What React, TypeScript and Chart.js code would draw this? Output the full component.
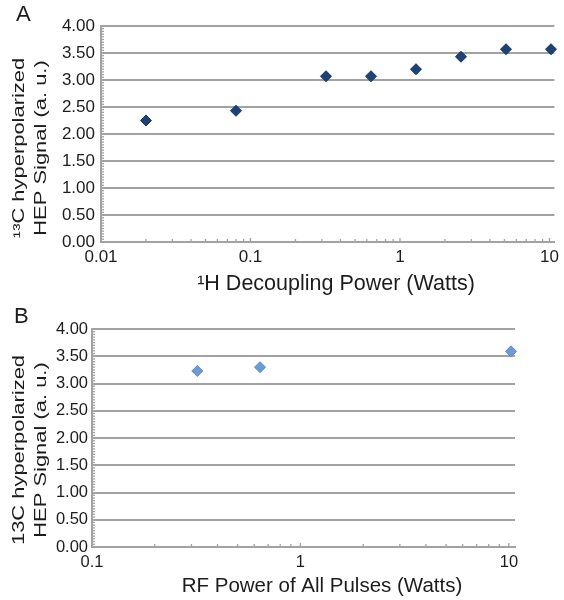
import React, { useEffect, useRef } from "react";
import { Chart, registerables } from "chart.js";

Chart.register(...registerables);

// ---- Data ----
const powerA = [0.02, 0.08, 0.32, 0.64, 1.28, 2.56, 5.12, 10.24];
const signalA = [2.25, 2.43, 3.07, 3.07, 3.2, 3.43, 3.57, 3.57];
const powerB = [0.32, 0.64, 10.24];
const signalB = [3.23, 3.3, 3.59];
const yTickValues = [0, 0.5, 1, 1.5, 2, 2.5, 3, 3.5, 4];
const xTicksA = [0.01, 0.1, 1, 10];
const xTicksB = [0.1, 1, 10];
const panelLetters = ["A", "B"];
const yTitleA = ["¹³C hyperpolarized", "HEP Signal (a. u.)"];
const yTitleB = ["13C hyperpolarized", "HEP Signal (a. u.)"];
const xTitleA = "¹H Decoupling Power (Watts)";
const xTitleB = "RF Power of All Pulses (Watts)";

const FONT = "'Liberation Sans', Arial, Helvetica, sans-serif";
const GRID = "#a2a2a2";
const TEXT = "#1c1c1c";

type PanelCfg = {
  letter: string;
  letterX: number;
  letterBase: number;
  xs: number[];
  ys: number[];
  xMin: number;
  xMax: number;
  xTicks: number[];
  color: string;
  border: string;
  left: number;
  right: number;
  top: number;
  bottom: number;
  yTitle: string[];
  yTitleCenter: number;
  xTitle: string;
  xTitleCenter: number;
  xTitleBase: number;
  xTitleSize: number;
  tickSize: number;
  yPad: number;
  xPad: number;
};

function makeChart(canvas: HTMLCanvasElement, p: PanelCfg) {
  const decor = {
    id: "decor",
    beforeDatasetsDraw(chart: any) {
      const ctx = chart.ctx;
      const xs = chart.scales.x;
      const ys = chart.scales.y;
      ctx.save();
      ctx.strokeStyle = GRID;
      ctx.lineWidth = 1.3;
      // minor x ticks (log)
      for (let d = -3; d <= 2; d++) {
        for (let m = 1; m <= 9; m++) {
          const v = m * Math.pow(10, d);
          if (v < p.xMin * 0.999 || v > p.xMax) continue;
          const px = xs.getPixelForValue(v);
          ctx.beginPath();
          ctx.moveTo(px, ys.bottom);
          ctx.lineTo(px, ys.bottom - (m === 1 ? 4 : 3));
          ctx.stroke();
        }
      }
      // minor y ticks
      for (let i = 0; i <= 80; i++) {
        const v = i * 0.05;
        const py = ys.getPixelForValue(v);
        ctx.beginPath();
        ctx.moveTo(xs.left, py);
        ctx.lineTo(xs.left + 3, py);
        ctx.stroke();
      }
      ctx.restore();
    },
    afterDraw(chart: any) {
      const ctx = chart.ctx;
      ctx.save();
      ctx.fillStyle = TEXT;
      // panel letter
      ctx.font = `22px ${FONT}`;
      ctx.textAlign = "left";
      ctx.textBaseline = "alphabetic";
      ctx.fillText(p.letter, p.letterX, p.letterBase);
      // y title (stretched along its length)
      ctx.font = `16px ${FONT}`;
      const baselines = [24, 46];
      p.yTitle.forEach((line, i) => {
        ctx.save();
        ctx.translate(baselines[i], p.yTitleCenter);
        ctx.rotate(-Math.PI / 2);
        ctx.scale(1.37, 1);
        ctx.textAlign = "center";
        ctx.fillText(line, 0, 0);
        ctx.restore();
      });
      // x title
      ctx.font = `${p.xTitleSize}px ${FONT}`;
      ctx.textAlign = "center";
      ctx.fillText(p.xTitle, p.xTitleCenter, p.xTitleBase);
      ctx.restore();
    },
  };

  return new Chart(canvas, {
    type: "scatter",
    data: {
      datasets: [
        {
          data: p.xs.map((x, i) => ({ x, y: p.ys[i] })),
          pointStyle: "rectRot",
          pointRadius: 5.5,
          pointBackgroundColor: p.color,
          pointBorderColor: p.border,
          pointBorderWidth: 1,
          showLine: false,
          clip: false,
        },
      ],
    },
    options: {
      animation: false,
      responsive: false,
      events: [],
      layout: { padding: { top: p.top, right: 564 - p.right, left: 0, bottom: 0 } },
      plugins: { legend: { display: false }, tooltip: { enabled: false } },
      scales: {
        x: {
          type: "logarithmic",
          min: p.xMin,
          max: p.xMax,
          afterBuildTicks: (s: any) => {
            s.ticks = p.xTicks.map((v) => ({ value: v }));
          },
          afterFit: (s: any) => {
            s.height = 300 - p.bottom;
          },
          grid: { display: false, drawTicks: false },
          border: { display: true, color: GRID, width: 2 },
          ticks: {
            autoSkip: false,
            maxRotation: 0,
            padding: p.xPad,
            color: TEXT,
            font: { family: FONT, size: p.tickSize },
            callback: (v: any) => String(v),
          },
        },
        y: {
          type: "linear",
          min: 0,
          max: 4,
          afterBuildTicks: (s: any) => {
            s.ticks = yTickValues.map((v) => ({ value: v }));
          },
          afterFit: (s: any) => {
            s.width = p.left;
          },
          grid: { color: GRID, lineWidth: 2, drawTicks: false },
          border: { display: true, color: GRID, width: 2 },
          ticks: {
            padding: p.yPad,
            color: TEXT,
            font: { family: FONT, size: p.tickSize },
            callback: (v: any) => Number(v).toFixed(2),
          },
        },
      },
    },
    plugins: [decor],
  } as any);
}

const panelA: PanelCfg = {
  letter: panelLetters[0],
  letterX: 16,
  letterBase: 21,
  xs: powerA,
  ys: signalA,
  xMin: 0.01,
  xMax: 10.8,
  xTicks: xTicksA,
  color: "#1d4274",
  border: "#163563",
  left: 101,
  right: 555,
  top: 26,
  bottom: 242,
  yTitle: yTitleA,
  yTitleCenter: 148,
  xTitle: xTitleA,
  xTitleCenter: 336,
  xTitleBase: 290,
  xTitleSize: 21.5,
  tickSize: 17,
  yPad: 6,
  xPad: 5,
};

const panelB: PanelCfg = {
  letter: panelLetters[1],
  letterX: 14,
  letterBase: 23,
  xs: powerB,
  ys: signalB,
  xMin: 0.1,
  xMax: 10.7,
  xTicks: xTicksB,
  color: "#6d9bd6",
  border: "#5a88c4",
  left: 92,
  right: 515,
  top: 29,
  bottom: 247,
  yTitle: yTitleB,
  yTitleCenter: 150,
  xTitle: xTitleB,
  xTitleCenter: 322,
  xTitleBase: 292,
  xTitleSize: 20.5,
  tickSize: 16.5,
  yPad: 4,
  xPad: 6,
};

function Panel({ cfg, top }: { cfg: PanelCfg; top: number }) {
  const ref = useRef<HTMLCanvasElement | null>(null);
  useEffect(() => {
    if (!ref.current) return;
    const chart = makeChart(ref.current, cfg);
    return () => chart.destroy();
  }, [cfg]);
  return (
    <canvas
      ref={ref}
      width={564}
      height={300}
      style={{ position: "absolute", left: 0, top, width: 564, height: 300, display: "block" }}
    />
  );
}

export default function App() {
  return (
    <div style={{ position: "absolute", left: 0, top: 0, width: 564, height: 600, background: "#fff" }}>
      <Panel cfg={panelA} top={0} />
      <Panel cfg={panelB} top={300} />
    </div>
  );
}
